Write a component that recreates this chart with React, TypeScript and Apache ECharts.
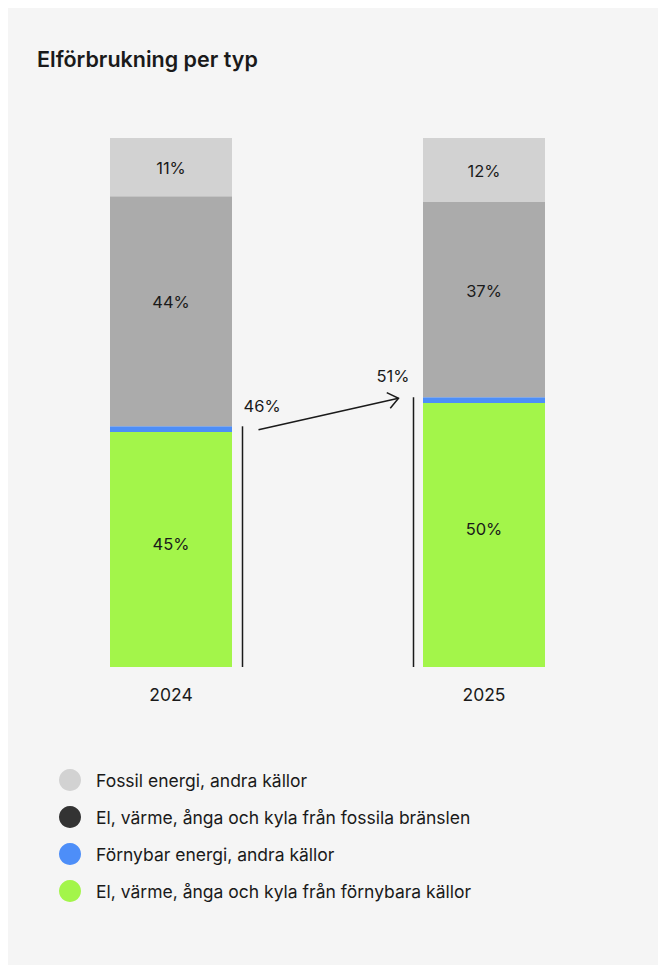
import React, { useEffect, useRef } from "react";
import * as echarts from "echarts";

const categories = ["2024", "2025"];
const seriesNames = [
  "El, värme, ånga och kyla från förnybara källor",
  "Förnybar energi, andra källor",
  "El, värme, ånga och kyla från fossila bränslen",
  "Fossil energi, andra källor",
];
const renewableElec = [44.4, 49.9];
const renewableOther = [1.1, 1.1];
const fossilElec = [43.5, 36.9];
const fossilOther = [11.0, 12.1];
const renewableElecLabels = ["45%", "50%"];
const fossilElecLabels = ["44%", "37%"];
const fossilOtherLabels = ["11%", "12%"];
const renewableTotalLabels = ["46%", "51%"];

const barColors = ["#a3f54a", "#4d8ef8", "#ababab", "#d2d2d2"];
const legendColors = ["#a3f54a", "#4d8ef8", "#333333", "#d2d2d2"];
const FONT = "Inter, 'Noto Sans', sans-serif";
const INK = "#1a1a1a";

export default function App() {
  const ref = useRef<HTMLDivElement>(null);
  useEffect(() => {
    if (!ref.current) return;
    const chart = echarts.init(ref.current, null, { renderer: "svg" });
    const dataSets = [renewableElec, renewableOther, fossilElec, fossilOther];
    const labelSets: (string[] | null)[] = [renewableElecLabels, null, fossilElecLabels, fossilOtherLabels];
    const offsets = [[0, -6], [0, 0], [0, -9], [0, 1]];
    const series = seriesNames.map((name, i) => ({
      name,
      type: "bar",
      stack: "total",
      barWidth: 122,
      data: dataSets[i],
      itemStyle: { color: barColors[i] },
      label: labelSets[i]
        ? {
            show: true,
            position: "inside",
            offset: offsets[i],
            color: INK,
            fontSize: 16.5,
            fontFamily: FONT,
            formatter: (p: any) => (labelSets[i] as string[])[p.dataIndex],
          }
        : { show: false },
      emphasis: { disabled: true },
    }));
    const legendOrder = [3, 2, 1, 0];
    chart.setOption({
      animation: false,
      backgroundColor: "#f5f5f5",
      title: {
        text: "Elförbrukning per typ",
        left: 29,
        top: 40,
        padding: 0,
        textStyle: { fontFamily: FONT, fontSize: 21.5, fontWeight: 600, color: INK },
      },
      grid: { left: 6.5, right: 17.5, top: 130, bottom: 298 },
      xAxis: {
        type: "category",
        data: categories,
        axisLine: { show: false },
        axisTick: { show: false },
        axisLabel: { margin: 18, fontSize: 17.5, color: INK, fontFamily: FONT },
      },
      yAxis: { type: "value", min: 0, max: 100, show: false, splitLine: { show: false } },
      legend: {
        orient: "vertical",
        left: 51,
        top: 761,
        padding: 0,
        itemWidth: 22,
        itemHeight: 22,
        itemGap: 15,
        icon: "circle",
        selectedMode: false,
        textStyle: { fontSize: 17.5, color: INK, fontFamily: FONT, padding: [0, 0, 0, 10] },
        data: legendOrder.map((i) => ({ name: seriesNames[i], itemStyle: { color: legendColors[i] } })),
      },
      series,
    });

    const half = 61;
    const tops = categories.map((_, i) =>
      chart.convertToPixel({ gridIndex: 0 }, [i, renewableElec[i] + renewableOther[i]]) as number[]
    );
    const base = chart.convertToPixel({ gridIndex: 0 }, [0, 0]) as number[];
    const x1 = tops[0][0] + half + 10.5;
    const x2 = tops[1][0] - half - 9.5;
    const y1 = tops[0][1];
    const y2 = tops[1][1];
    const sx = x1 + 16, sy = y1 + 3.5;
    const ex = x2 - 15, ey = y2 + 1;
    const ang = Math.atan2(ey - sy, ex - sx);
    const hl = 13, spread = (38 * Math.PI) / 180;
    const h1 = [ex - hl * Math.cos(ang - spread), ey - hl * Math.sin(ang - spread)];
    const h2 = [ex - hl * Math.cos(ang + spread), ey - hl * Math.sin(ang + spread)];
    const lineStyle = { stroke: INK, lineWidth: 1.5 };
    chart.setOption({
      graphic: [
        { type: "line", shape: { x1, y1, x2: x1, y2: base[1] }, style: lineStyle, silent: true },
        { type: "line", shape: { x1: x2, y1: y2, x2, y2: base[1] }, style: lineStyle, silent: true },
        { type: "line", shape: { x1: sx, y1: sy, x2: ex, y2: ey }, style: lineStyle, silent: true },
        { type: "polyline", shape: { points: [h1, [ex, ey], h2] }, style: { ...lineStyle, fill: null }, silent: true },
        {
          type: "text",
          x: x1 + 1,
          y: y1 - 20,
          style: { text: renewableTotalLabels[0], fill: INK, fontSize: 16.5, fontFamily: FONT, verticalAlign: "middle", align: "left" },
        },
        {
          type: "text",
          x: x2 - 4,
          y: y2 - 21,
          style: { text: renewableTotalLabels[1], fill: INK, fontSize: 16.5, fontFamily: FONT, verticalAlign: "middle", align: "right" },
        },
      ],
    });
    return () => chart.dispose();
  }, []);
  return (
    <div
      ref={ref}
      style={{ position: "absolute", left: 8, top: 8, width: 650, height: 957 }}
    />
  );
}
